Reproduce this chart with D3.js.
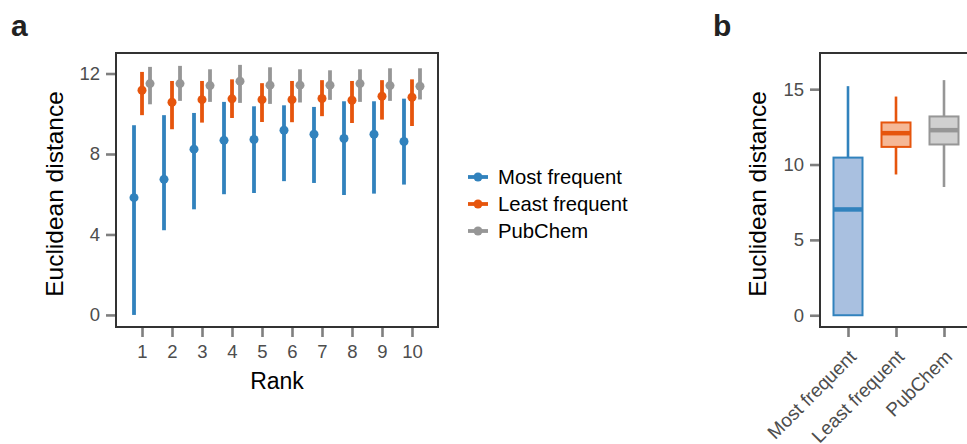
<!DOCTYPE html>
<html>
<head>
<meta charset="utf-8">
<script src="https://cdn.jsdelivr.net/npm/d3@7"></script>
<style>
  body { margin: 0; background: #fff; }
  svg { display: block; font-family: "Liberation Sans", Arial, sans-serif; }
</style>
</head>
<body>
<div id="chart"></div>
<script>
// data for panel a: rank vs euclidean distance (point + range)
var ranks = [1, 2, 3, 4, 5, 6, 7, 8, 9, 10];
var seriesNames = ["Most frequent", "Least frequent", "PubChem"];
var mostMid = [5.83, 6.74, 8.24, 8.68, 8.72, 9.18, 8.98, 8.77, 8.98, 8.62];
var mostLow = [0.0, 4.21, 5.25, 6.0, 6.06, 6.65, 6.56, 5.96, 6.03, 6.48];
var mostHigh = [9.43, 9.93, 10.04, 10.59, 10.37, 10.42, 10.34, 10.62, 10.62, 10.75];
var leastMid = [11.17, 10.57, 10.7, 10.74, 10.7, 10.7, 10.76, 10.67, 10.87, 10.82];
var leastLow = [9.93, 9.23, 9.56, 9.79, 9.59, 9.58, 9.88, 9.54, 9.71, 9.39];
var leastHigh = [12.08, 11.63, 11.63, 11.71, 11.52, 11.63, 11.67, 11.63, 11.67, 11.71];
var pubMid = [11.5, 11.5, 11.4, 11.62, 11.42, 11.42, 11.42, 11.5, 11.4, 11.37];
var pubLow = [10.47, 10.64, 10.59, 10.54, 10.49, 10.56, 10.69, 10.59, 10.64, 10.71];
var pubHigh = [12.33, 12.38, 12.21, 12.43, 12.31, 12.21, 12.16, 12.21, 12.26, 12.26];
var aTicks = [0, 4, 8, 12];

// data for panel b: boxplot summary (min, q1, median, q3, max)
var boxGroups = ["Most frequent", "Least frequent", "PubChem"];
var boxMin = [0.0, 9.34, 8.51];
var boxQ1 = [0.0, 11.17, 11.33];
var boxMed = [7.02, 12.08, 12.28];
var boxQ3 = [10.46, 12.79, 13.19];
var boxMax = [15.2, 14.51, 15.6];
var bTicks = [0, 5, 10, 15];

var colors = ["#3182bd", "#e6550d", "#969696"];
var fills = ["#a9c0e0", "#f5b896", "#d0d0d0"];

var W = 967, H = 444;
var svg = d3.select("#chart").append("svg")
    .attr("width", W)
    .attr("height", H);

// ---------- panel a ----------
var A = {left: 116, top: 53, right: 438, bottom: 327};

var ax = d3.scaleLinear()
    .domain([0.133, 10.867])
    .range([A.left, A.right]);
var ay = d3.scaleLinear()
    .domain([-0.6, 13.02])
    .range([A.bottom, A.top]);

var dodge = [-8, 0, 8];
var mids = [mostMid, leastMid, pubMid],
    lows = [mostLow, leastLow, pubLow],
    highs = [mostHigh, leastHigh, pubHigh];

var gA = svg.append("g");

// y axis
var yAxisA = gA.append("g")
    .attr("transform", "translate(" + A.left + ",0)")
    .call(d3.axisLeft(ay).tickValues(aTicks).tickSize(10).tickPadding(6));
// x axis
var xAxisA = gA.append("g")
    .attr("transform", "translate(0," + A.bottom + ")")
    .call(d3.axisBottom(ax).tickValues(ranks).tickSize(10).tickPadding(8));

[yAxisA, xAxisA].forEach(function(g) {
  g.select(".domain").remove();
  g.selectAll(".tick line").attr("stroke", "#7f7f7f").attr("stroke-width", 2.6);
  g.selectAll(".tick text").attr("fill", "#4d4d4d").style("font-size", "18.5px");
});

// pointranges
seriesNames.forEach(function(name, s) {
  var g = gA.append("g");
  g.selectAll("line")
    .data(ranks)
    .enter().append("line")
      .attr("x1", function(d) { return ax(d) + dodge[s]; })
      .attr("x2", function(d) { return ax(d) + dodge[s]; })
      .attr("y1", function(d, i) { return ay(lows[s][i]); })
      .attr("y2", function(d, i) { return ay(highs[s][i]); })
      .attr("stroke", colors[s])
      .attr("stroke-width", 3.8);
  g.selectAll("circle")
    .data(ranks)
    .enter().append("circle")
      .attr("cx", function(d) { return ax(d) + dodge[s]; })
      .attr("cy", function(d, i) { return ay(mids[s][i]); })
      .attr("r", 4.5)
      .attr("fill", colors[s]);
});

// frame
gA.append("rect")
    .attr("x", A.left)
    .attr("y", A.top)
    .attr("width", A.right - A.left)
    .attr("height", A.bottom - A.top)
    .attr("fill", "none")
    .attr("stroke", "#333")
    .attr("stroke-width", 2);

gA.append("text")
    .attr("transform", "translate(62.5,194) rotate(-90)")
    .attr("text-anchor", "middle")
    .style("font-size", "24.5px")
    .text("Euclidean distance");

gA.append("text")
    .attr("x", (A.left + A.right) / 2)
    .attr("y", 389)
    .attr("text-anchor", "middle")
    .style("font-size", "23px")
    .text("Rank");

svg.append("text")
    .attr("x", 11)
    .attr("y", 36)
    .style("font-size", "30px")
    .style("font-weight", "bold")
    .attr("fill", "#222")
    .text("a");

// legend
var leg = svg.append("g").attr("transform", "translate(468,177)");
seriesNames.forEach(function(name, s) {
  var row = leg.append("g").attr("transform", "translate(0," + s * 27 + ")");
  row.append("line")
      .attr("x1", 0).attr("x2", 20)
      .attr("stroke", colors[s])
      .attr("stroke-width", 3.8);
  row.append("circle")
      .attr("cx", 10)
      .attr("r", 4.5)
      .attr("fill", colors[s]);
  row.append("text")
      .attr("x", 30)
      .attr("dy", "0.36em")
      .style("font-size", "20.3px")
      .text(name);
});

// ---------- panel b ----------
var B = {left: 820, top: 53, right: 972, bottom: 327};

var bx = d3.scalePoint()
    .domain(boxGroups)
    .range([848, 944]);
var by = d3.scaleLinear()
    .domain([-0.78, 17.4])
    .range([B.bottom, B.top]);

var gB = svg.append("g");

var yAxisB = gB.append("g")
    .attr("transform", "translate(" + B.left + ",0)")
    .call(d3.axisLeft(by).tickValues(bTicks).tickSize(10).tickPadding(6));
var xAxisB = gB.append("g")
    .attr("transform", "translate(0," + B.bottom + ")")
    .call(d3.axisBottom(bx).tickSize(10).tickPadding(8));

[yAxisB, xAxisB].forEach(function(g) {
  g.select(".domain").remove();
  g.selectAll(".tick line").attr("stroke", "#7f7f7f").attr("stroke-width", 2.6);
  g.selectAll(".tick text").attr("fill", "#4d4d4d").style("font-size", "18.5px");
});

xAxisB.selectAll(".tick text")
    .attr("text-anchor", "end")
    .attr("x", 0)
    .attr("y", 0)
    .attr("dy", 0)
    .style("font-size", "19px")
    .attr("transform", "translate(9,31) rotate(-45)");

var boxW = 29;
boxGroups.forEach(function(name, i) {
  var cx = bx(name);
  var g = gB.append("g");
  g.append("line")
      .attr("x1", cx).attr("x2", cx)
      .attr("y1", by(boxMin[i])).attr("y2", by(boxMax[i]))
      .attr("stroke", colors[i])
      .attr("stroke-width", 2.6);
  g.append("rect")
      .attr("x", cx - boxW / 2)
      .attr("y", by(boxQ3[i]))
      .attr("width", boxW)
      .attr("height", by(boxQ1[i]) - by(boxQ3[i]))
      .attr("fill", fills[i])
      .attr("stroke", colors[i])
      .attr("stroke-width", 2);
  g.append("line")
      .attr("x1", cx - boxW / 2).attr("x2", cx + boxW / 2)
      .attr("y1", by(boxMed[i])).attr("y2", by(boxMed[i]))
      .attr("stroke", colors[i])
      .attr("stroke-width", 4.5);
});

gB.append("rect")
    .attr("x", B.left)
    .attr("y", B.top)
    .attr("width", B.right - B.left)
    .attr("height", B.bottom - B.top)
    .attr("fill", "none")
    .attr("stroke", "#333")
    .attr("stroke-width", 2);

gB.append("text")
    .attr("transform", "translate(766,194) rotate(-90)")
    .attr("text-anchor", "middle")
    .style("font-size", "24.5px")
    .text("Euclidean distance");

svg.append("text")
    .attr("x", 713)
    .attr("y", 36)
    .style("font-size", "30px")
    .style("font-weight", "bold")
    .attr("fill", "#222")
    .text("b");
</script>
</body>
</html>
